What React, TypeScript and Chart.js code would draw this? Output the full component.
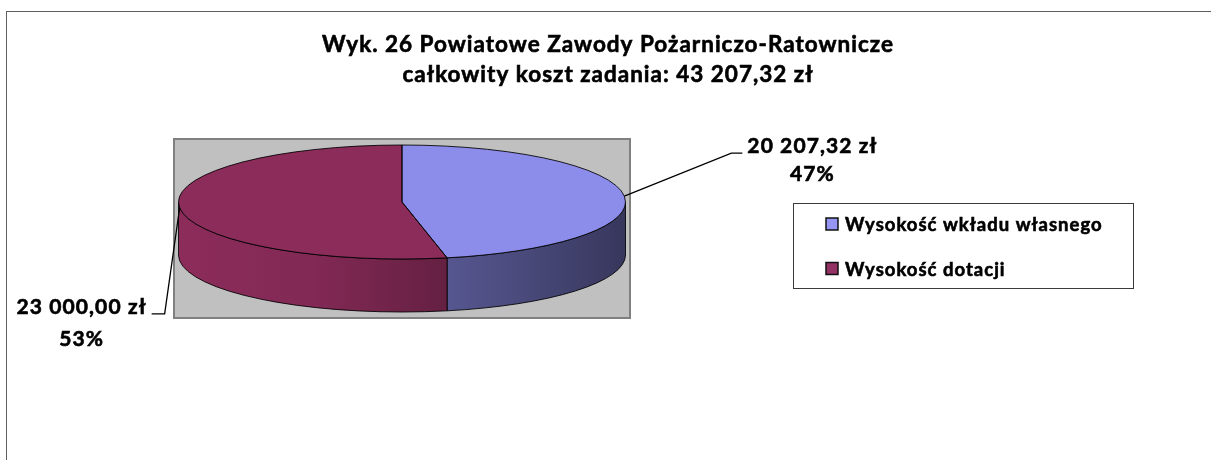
import React, { useEffect, useRef } from "react";
import { Chart, registerables } from "chart.js";

Chart.register(...registerables);

// ---- data ----
const categories: string[] = ["Wysokość wkładu własnego", "Wysokość dotacji"];
const values: number[] = [20207.32, 23000.0];
const titleLine1 = "Wyk. 26 Powiatowe Zawody Pożarniczo-Ratownicze";
const titleLine2Prefix = "całkowity koszt zadania: ";

// ---- styles ----
const topColors: number[][] = [
  [140, 140, 234],
  [140, 44, 91],
];
const legendColors: string[] = ["#9595F4", "#933163"];
const sideDim: number[] = [0.86, 1.0];

// ---- layout ----
const W = 1211;
const H = 460;
const RX = 223.5;
const RY = 57;
const DEPTH = 53;
const PLOT = { x: 174, y: 139, w: 456, h: 179 };
const FONT_FAMILY = "Lato, 'Open Sans', sans-serif";
const LABEL_FONT = `bold 21px ${FONT_FAMILY}`;
const TITLE_FONT = `bold 22.5px ${FONT_FAMILY}`;
const LEGEND_FONT = `bold 18.5px ${FONT_FAMILY}`;

function fmtPLN(v: number): string {
  const [i, d] = v.toFixed(2).split(".");
  const g = i.replace(/\B(?=(\d{3})+(?!\d))/g, " ");
  return `${g},${d} zł`;
}

function rgb(c: number[], f: number): string {
  const r = Math.max(0, Math.min(255, Math.round(c[0] * f)));
  const g = Math.max(0, Math.min(255, Math.round(c[1] * f)));
  const b = Math.max(0, Math.min(255, Math.round(c[2] * f)));
  return `rgb(${r},${g},${b})`;
}

function heavyText(ctx: CanvasRenderingContext2D, text: string, x: number, y: number) {
  ctx.fillText(text, x, y);
  ctx.lineWidth = 0.6;
  ctx.strokeStyle = ctx.fillStyle as string;
  ctx.strokeText(text, x, y);
}

function setSpacing(ctx: any, px: number) {
  try {
    ctx.letterSpacing = `${px}px`;
  } catch (e) {
    /* ignore */
  }
}

const pie3d = {
  id: "pie3d",
  beforeDraw(chart: any) {
    const ctx: CanvasRenderingContext2D = chart.ctx;
    ctx.save();
    ctx.fillStyle = "#ffffff";
    ctx.fillRect(0, 0, W, H);
    // outer frame
    ctx.strokeStyle = "#5f5f5f";
    ctx.lineWidth = 1;
    ctx.strokeRect(6.5, 11.5, W + 20, H + 20);
    // plot area
    ctx.fillStyle = "#C0C0C0";
    ctx.fillRect(PLOT.x, PLOT.y, PLOT.w, PLOT.h);
    ctx.strokeStyle = "#808080";
    ctx.lineWidth = 2;
    ctx.strokeRect(PLOT.x, PLOT.y, PLOT.w, PLOT.h);
    // title
    const total = values.reduce((a, b) => a + b, 0);
    ctx.fillStyle = "#000";
    ctx.font = TITLE_FONT;
    setSpacing(ctx, 1);
    ctx.textAlign = "center";
    ctx.textBaseline = "alphabetic";
    heavyText(ctx, titleLine1, 608, 52);
    heavyText(ctx, titleLine2Prefix + fmtPLN(total), 608, 82);
    ctx.restore();
  },
  beforeDatasetsDraw(chart: any) {
    const ctx: CanvasRenderingContext2D = chart.ctx;
    const meta = chart.getDatasetMeta(0);
    const arcs: any[] = meta.data;
    if (!arcs.length) return false;
    const cx = arcs[0].x;
    const cy = arcs[0].y;
    const R = arcs[0].outerRadius;
    ctx.save();
    // side walls (front half: angles 0..PI)
    arcs.forEach((arc, i) => {
      const s = Math.max(arc.startAngle, 0);
      const e = Math.min(arc.endAngle, Math.PI);
      if (e <= s) return;
      const c = topColors[i];
      const k = sideDim[i];
      const grad = ctx.createLinearGradient(cx - RX, 0, cx + RX, 0);
      grad.addColorStop(0, rgb(c, 1.0 * k));
      grad.addColorStop(0.3, rgb(c, 0.93 * k));
      grad.addColorStop(0.6, rgb(c, 0.72 * k));
      grad.addColorStop(1, rgb(c, 0.46 * k));
      ctx.beginPath();
      ctx.ellipse(cx, cy, RX, RY, 0, s, e);
      ctx.lineTo(cx + RX * Math.cos(e), cy + RY * Math.sin(e) + DEPTH);
      ctx.ellipse(cx, cy + DEPTH, RX, RY, 0, e, s, true);
      ctx.closePath();
      ctx.fillStyle = grad;
      ctx.fill();
      ctx.strokeStyle = "rgba(0,0,0,0.85)";
      ctx.lineWidth = 1;
      ctx.stroke();
    });
    // top faces drawn by the library's arc elements, squashed to an ellipse
    arcs.forEach((arc) => {
      ctx.save();
      ctx.translate(cx, cy);
      ctx.scale(RX / R, RY / R);
      ctx.translate(-cx, -cy);
      arc.draw(ctx);
      ctx.restore();
    });
    // outlines of top faces
    arcs.forEach((arc) => {
      ctx.beginPath();
      ctx.moveTo(cx, cy);
      ctx.ellipse(cx, cy, RX, RY, 0, arc.startAngle, arc.endAngle);
      ctx.closePath();
      ctx.strokeStyle = "rgba(0,0,0,0.85)";
      ctx.lineWidth = 1;
      ctx.stroke();
    });
    ctx.restore();
    return false;
  },
  afterDraw(chart: any) {
    const ctx: CanvasRenderingContext2D = chart.ctx;
    const meta = chart.getDatasetMeta(0);
    const arcs: any[] = meta.data;
    const total = values.reduce((a, b) => a + b, 0);
    ctx.save();
    ctx.font = LABEL_FONT;
    setSpacing(ctx, 1.1);
    ctx.fillStyle = "#000";
    ctx.textBaseline = "alphabetic";
    arcs.forEach((arc, i) => {
      const cx = arc.x;
      const cy = arc.y;
      const m = (arc.startAngle + arc.endAngle) / 2;
      const ax = cx + RX * Math.cos(m);
      const ay = cy + RY * Math.sin(m);
      const line1 = fmtPLN(values[i]);
      const line2 = `${Math.round((values[i] / total) * 100)}%`;
      const w1 = ctx.measureText(line1).width;
      ctx.strokeStyle = "#000";
      ctx.lineWidth = 1.3;
      ctx.beginPath();
      ctx.moveTo(ax, ay);
      let tx: number;
      let by: number;
      let gap: number;
      if (Math.cos(m) >= 0) {
        const ex = ax + 107;
        const ey = ay - 43;
        ctx.lineTo(ex, ey);
        ctx.lineTo(ex + 11, ey);
        tx = ex + 16;
        by = ey - 0.5;
        gap = 28;
      } else {
        const ex = ax - 15;
        const ey = ay + 106;
        ctx.lineTo(ex, ey);
        ctx.lineTo(ex - 13, ey);
        tx = ex - 18 - w1;
        by = ey;
        gap = 32;
      }
      ctx.stroke();
      ctx.fillStyle = "#000";
      ctx.textAlign = "left";
      heavyText(ctx, line1, tx, by);
      ctx.textAlign = "center";
      heavyText(ctx, line2, tx + w1 / 2, by + gap);
    });
    // legend
    ctx.strokeStyle = "#3a3a3a";
    ctx.lineWidth = 1;
    ctx.strokeRect(793.5, 203.5, 340, 85);
    ctx.font = LEGEND_FONT;
    setSpacing(ctx, 1);
    ctx.textAlign = "left";
    categories.forEach((name, i) => {
      const y = 218 + i * 44.5;
      ctx.fillStyle = legendColors[i];
      ctx.fillRect(826, y, 12, 12);
      ctx.strokeStyle = "#111";
      ctx.lineWidth = 1.5;
      ctx.strokeRect(826, y, 12, 12);
      ctx.fillStyle = "#000";
      heavyText(ctx, name, 845, y + 13);
    });
    ctx.restore();
  },
};

export default function App() {
  const ref = useRef<HTMLCanvasElement | null>(null);
  useEffect(() => {
    document.body.style.margin = "0";
    const canvas = ref.current;
    if (!canvas) return;
    const chart = new Chart(canvas, {
      type: "pie",
      data: {
        labels: categories,
        datasets: [
          {
            data: values,
            backgroundColor: topColors.map((c) => rgb(c, 1)),
            borderWidth: 0,
            hoverOffset: 0,
          },
        ],
      },
      options: {
        animation: false,
        responsive: false,
        devicePixelRatio: 1,
        events: [],
        layout: { padding: { left: 345, right: 752, top: 145, bottom: 201 } },
        plugins: {
          legend: { display: false },
          title: { display: false },
          tooltip: { enabled: false },
        },
      },
      plugins: [pie3d],
    });
    return () => chart.destroy();
  }, []);
  return (
    <div style={{ width: W, height: H }}>
      <canvas ref={ref} width={W} height={H} style={{ display: "block", width: W, height: H }} />
    </div>
  );
}
